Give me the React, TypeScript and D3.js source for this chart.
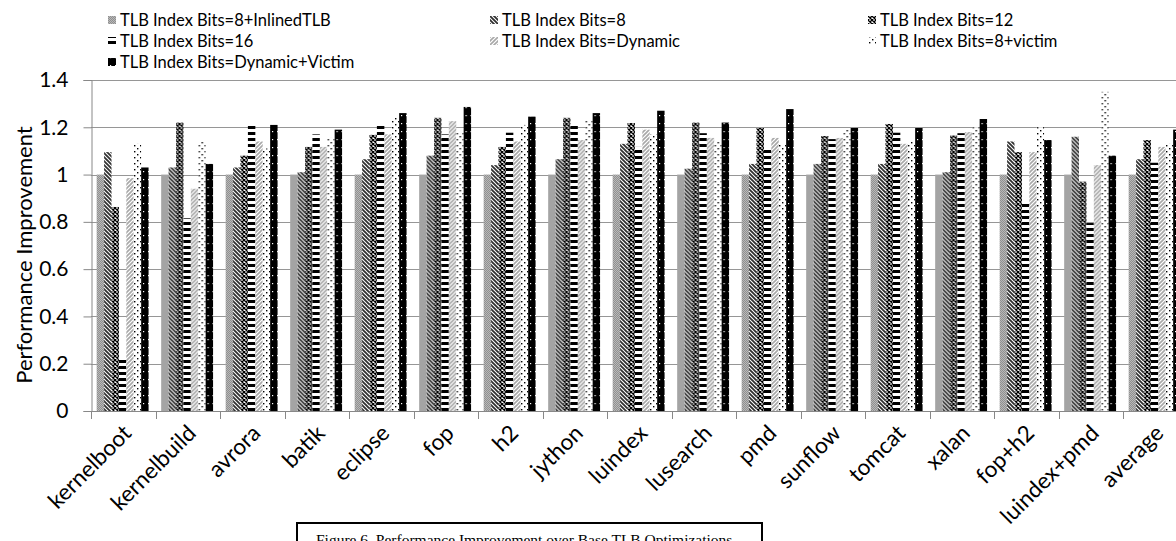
import React, { useEffect, useRef } from 'react';
import * as d3 from 'd3';

const categories = [
  'kernelboot', 'kernelbuild', 'avrora', 'batik', 'eclipse', 'fop', 'h2', 'jython', 'luindex',
  'lusearch', 'pmd', 'sunflow', 'tomcat', 'xalan', 'fop+h2', 'luindex+pmd', 'average',
];

const seriesNames = [
  'TLB Index Bits=8+InlinedTLB',
  'TLB Index Bits=8',
  'TLB Index Bits=12',
  'TLB Index Bits=16',
  'TLB Index Bits=Dynamic',
  'TLB Index Bits=8+victim',
  'TLB Index Bits=Dynamic+Victim',
];

const inlinedTlb = [1, 1, 1, 1, 1, 1, 1, 1, 1, 1, 1, 1, 1, 1, 1, 1, 1];
const bits8 = [1.095, 1.03, 1.03, 1.01, 1.065, 1.08, 1.04, 1.065, 1.13, 1.025, 1.045, 1.045, 1.045, 1.01, 1.14, 1.16, 1.065];
const bits12 = [0.863, 1.22, 1.08, 1.117, 1.168, 1.24, 1.117, 1.24, 1.218, 1.22, 1.197, 1.163, 1.214, 1.165, 1.095, 0.97, 1.146];
const bits16 = [0.224, 0.815, 1.21, 1.17, 1.214, 1.17, 1.177, 1.214, 1.117, 1.175, 1.108, 1.15, 1.177, 1.175, 0.88, 0.795, 1.05];
const dynamic = [0.985, 0.94, 1.14, 1.117, 1.17, 1.226, 1.14, 1.146, 1.19, 1.155, 1.155, 1.155, 1.13, 1.18, 1.095, 1.04, 1.117];
const victim = [1.13, 1.14, 1.11, 1.155, 1.24, 1.18, 1.21, 1.227, 1.17, 1.14, 1.125, 1.19, 1.14, 1.2, 1.2, 1.35, 1.13];
const dynVictim = [1.03, 1.045, 1.21, 1.19, 1.26, 1.286, 1.245, 1.26, 1.27, 1.22, 1.277, 1.197, 1.197, 1.235, 1.146, 1.08, 1.19];

const seriesValues = [inlinedTlb, bits8, bits12, bits16, dynamic, victim, dynVictim];
const yTicks = [0, 0.2, 0.4, 0.6, 0.8, 1, 1.2, 1.4];
const caption = 'Figure 6. Performance Improvement over Base TLB Optimizations';

function App() {
  const svgRef = useRef(null);

  useEffect(() => {
    document.body.style.margin = '0';
    const width = 1176;
    const height = 541;
    const plot = { left: 91, top: 80, bottom: 411, right: 91 + 17 * 64.5 };

    const svg = d3.select(svgRef.current).attr('width', width).attr('height', height);
    svg.selectAll('*').remove();

    // patterns, one per series
    const defs = svg.append('defs');
    const pat = (id, w, h, bg) => {
      const p = defs.append('pattern').attr('id', id).attr('patternUnits', 'userSpaceOnUse')
        .attr('width', w).attr('height', h);
      p.append('rect').attr('width', w).attr('height', h).attr('fill', bg);
      return p;
    };
    const p0 = pat('p0', 2, 2, '#b8b8b8');
    p0.append('rect').attr('width', 1).attr('height', 1).attr('fill', '#909090');
    p0.append('rect').attr('x', 1).attr('y', 1).attr('width', 1).attr('height', 1).attr('fill', '#909090');
    const p1 = pat('p1', 4, 4, '#ffffff');
    p1.append('path').attr('d', 'M-1,-1L5,5M-1,3L1,5M3,-1L5,1').attr('stroke', '#303030').attr('stroke-width', 1.8);
    const p2 = pat('p2', 4, 4, '#ffffff');
    p2.append('path').attr('d', 'M0,0L4,4M4,0L0,4').attr('stroke', '#000').attr('stroke-width', 1.3);
    const p3 = pat('p3', 8, 6, '#ffffff');
    p3.append('rect').attr('width', 8).attr('height', 3).attr('fill', '#000');
    const p4 = pat('p4', 4, 4, '#ffffff');
    p4.append('path').attr('d', 'M-1,5L5,-1M-1,1L1,-1M3,5L5,3').attr('stroke', '#a8a8a8').attr('stroke-width', 1.6);
    const p5 = pat('p5', 6, 6, '#ffffff');
    p5.append('rect').attr('x', 1).attr('y', 1).attr('width', 1.4).attr('height', 1.4).attr('fill', '#000');
    p5.append('rect').attr('x', 4).attr('y', 4).attr('width', 1.4).attr('height', 1.4).attr('fill', '#000');
    const p6 = pat('p6', 5, 8, '#000000');
    p6.append('rect').attr('x', 2).attr('y', 3).attr('width', 1.2).attr('height', 1.2).attr('fill', '#fff');

    // scales
    const x = d3.scaleBand().domain(categories).range([plot.left, plot.right]);
    const xInner = d3.scaleBand().domain(d3.range(seriesNames.length).map(String))
      .range([0, x.bandwidth()]).paddingOuter(0.85).align(0.45);
    const y = d3.scaleLinear().domain([0, 1.4]).range([plot.bottom, plot.top]);

    // gridlines
    svg.append('g').selectAll('line').data(yTicks.filter((t) => t > 0)).join('line')
      .attr('x1', plot.left).attr('x2', plot.right)
      .attr('y1', (d) => Math.round(y(d)) + 0.5).attr('y2', (d) => Math.round(y(d)) + 0.5)
      .attr('stroke', '#969696').attr('stroke-width', 1.2);

    // bars
    const groups = svg.append('g').selectAll('g').data(categories).join('g')
      .attr('transform', (d) => `translate(${x(d)},0)`);
    groups.selectAll('rect')
      .data((d, i) => seriesValues.map((vals, s) => ({ s, v: vals[i] })))
      .join('rect')
      .attr('x', (d) => xInner(String(d.s)))
      .attr('width', xInner.bandwidth())
      .attr('y', (d) => y(d.v))
      .attr('height', (d) => y(0) - y(d.v))
      .attr('fill', (d) => `url(#p${d.s})`);

    // y axis
    const yAxis = svg.append('g').attr('transform', `translate(${plot.left + 0.5},0)`)
      .call(d3.axisLeft(y).tickValues(yTicks).tickSize(8).tickPadding(15)
        .tickFormat((d) => String(+(+d).toFixed(1))));
    yAxis.select('.domain').attr('stroke', '#888');
    yAxis.selectAll('.tick line').attr('stroke', '#888');
    yAxis.selectAll('text').attr('font-family', 'Lato').attr('font-size', 21).attr('fill', '#000');

    // x axis
    svg.append('line').attr('x1', plot.left).attr('x2', plot.right)
      .attr('y1', plot.bottom + 0.5).attr('y2', plot.bottom + 0.5).attr('stroke', '#888');
    svg.append('g').selectAll('line').data(categories.map((c) => x(c)).concat([plot.right])).join('line')
      .attr('x1', (d) => Math.round(d) + 0.5).attr('x2', (d) => Math.round(d) + 0.5)
      .attr('y1', plot.bottom).attr('y2', plot.bottom + 8).attr('stroke', '#888');
    svg.append('g').selectAll('text').data(categories).join('text')
      .attr('transform', (d) => `translate(${x(d) + x.bandwidth() / 2 + 4},${plot.bottom + 18}) rotate(-45)`)
      .attr('text-anchor', 'end').attr('dy', '0.35em')
      .attr('font-family', 'Lato').attr('font-size', 22.5).text((d) => d);

    // y title
    svg.append('text').attr('transform', 'translate(24,255) rotate(-90)')
      .attr('text-anchor', 'middle').attr('dy', '0.35em')
      .attr('font-family', 'Lato').attr('font-size', 22).text('Performance Improvement');

    // legend
    const colX = [108, 490, 868];
    const rowY = [20, 41, 62];
    const legend = svg.append('g').selectAll('g').data(seriesNames).join('g')
      .attr('transform', (d, i) => `translate(${colX[i % 3]},${rowY[Math.floor(i / 3)]})`);
    legend.append('rect').attr('x', 0).attr('y', -4).attr('width', 8).attr('height', 8)
      .attr('fill', (d, i) => `url(#p${i})`);
    legend.append('text').attr('x', 12).attr('dy', '0.35em')
      .attr('font-family', 'Lato').attr('font-size', 16.5).text((d) => d);

    // caption box
    svg.append('rect').attr('x', 297).attr('y', 523).attr('width', 465).attr('height', 40)
      .attr('fill', '#fff').attr('stroke', '#000').attr('stroke-width', 2);
    svg.append('text').attr('x', 316).attr('y', 545)
      .attr('font-family', 'Liberation Serif').attr('font-size', 15.5).text(caption);
  }, []);

  return <svg ref={svgRef} style={{ display: 'block' }} />;
}

export default App;
